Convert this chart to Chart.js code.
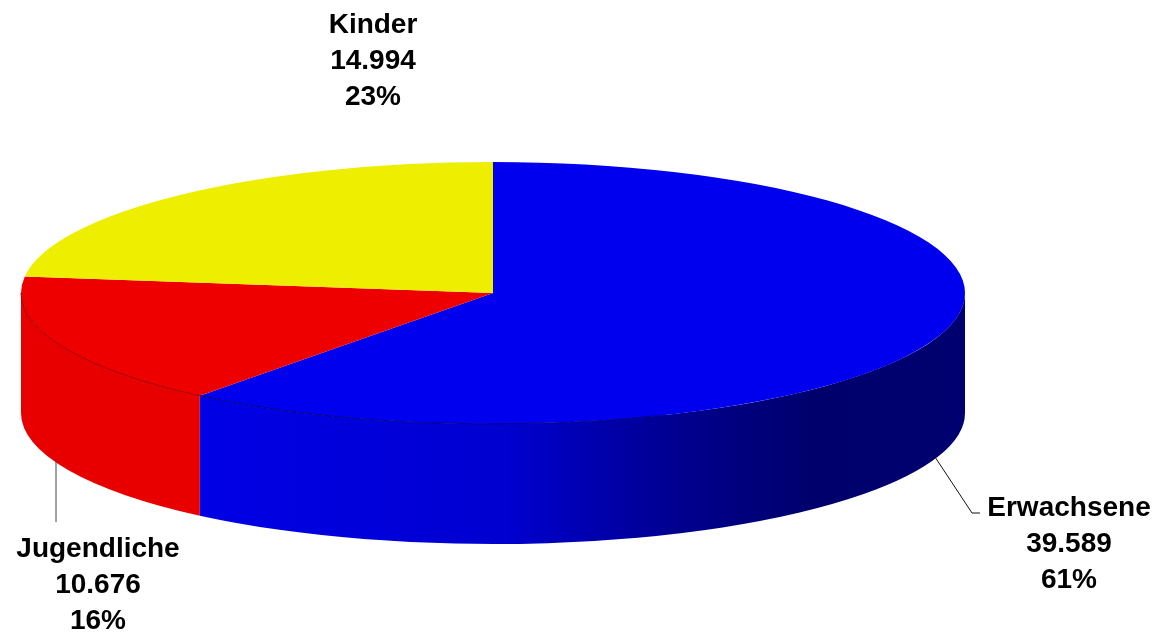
<!DOCTYPE html>
<html>
<head>
<meta charset="utf-8">
<title>Erwachsene, Jugendliche, Kinder</title>
<script src="https://cdn.jsdelivr.net/npm/chart.js@4"></script>
<style>
  html, body { margin: 0; padding: 0; background: #fff; }
  #wrap { position: relative; width: 1157px; height: 633px; }
</style>
</head>
<body>
<div id="wrap"><canvas id="myChart"></canvas></div>
<script>
"use strict";

let categories = ["Erwachsene", "Jugendliche", "Kinder"];
let values = [39589, 10676, 14994];
let valueLabels = ["39.589", "10.676", "14.994"];
let percentLabels = ["61%", "16%", "23%"];
let colors = ["#0000ee", "#ee0000", "#eeee00"];

// where the flat pie ends up on the page
const pieX = 493;
const pieY = 293;
const pieRx = 472;
const pieRy = 131;
const depth = 120;

// label centre x and first baseline, same order as categories
const labelPos = [[1069, 516], [98, 557], [373, 33]];

function wallFill(ctx, i) {
  if (i === 1) return "#e80000";
  let grad = ctx.createLinearGradient(200, 0, 965, 0);
  grad.addColorStop(0, "#0000e6");
  grad.addColorStop(0.4, "#0000d0");
  grad.addColorStop(0.62, "#000090");
  grad.addColorStop(0.8, "#00006c");
  grad.addColorStop(1, "#000070");
  return grad;
}

const pie3d = {
  id: "pie3d",
  beforeDatasetsDraw(chart) {
    const ctx = chart.ctx;
    const arcs = chart.getDatasetMeta(0).data;

    // side wall, only the part of each slice that faces us
    arcs.forEach((arc, i) => {
      const from = Math.max(arc.startAngle, 0);
      const to = Math.min(arc.endAngle, Math.PI);
      if (to <= from) return;
      ctx.save();
      ctx.beginPath();
      ctx.ellipse(pieX, pieY, pieRx, pieRy, 0, from, to);
      ctx.ellipse(pieX, pieY + depth, pieRx, pieRy, 0, to, from, true);
      ctx.closePath();
      ctx.fillStyle = wallFill(ctx, i);
      ctx.fill();
      ctx.restore();
    });

    // squash the pie itself
    const c = arcs[0];
    const sx = pieRx / c.outerRadius;
    const sy = pieRy / c.outerRadius;
    ctx.save();
    ctx.translate(pieX, pieY);
    ctx.scale(sx, sy);
    ctx.translate(-c.x, -c.y);
  },
  afterDatasetsDraw(chart) {
    const ctx = chart.ctx;
    ctx.restore();

    // dark rim between top and wall on the red slice
    const arcs = chart.getDatasetMeta(0).data;
    ctx.save();
    ctx.lineWidth = 1;
    ctx.strokeStyle = "#a00000";
    ctx.beginPath();
    ctx.ellipse(pieX, pieY, pieRx, pieRy, 0, arcs[1].startAngle, Math.PI);
    ctx.stroke();
    ctx.strokeStyle = "#00008a";
    ctx.beginPath();
    ctx.ellipse(pieX, pieY, pieRx, pieRy, 0, 1.2, arcs[0].endAngle);
    ctx.stroke();
    ctx.restore();

    // leader lines
    ctx.save();
    ctx.lineWidth = 1;
    ctx.strokeStyle = "#444";
    ctx.beginPath();
    ctx.moveTo(56, 460);
    ctx.lineTo(56, 522);
    ctx.stroke();
    ctx.strokeStyle = "#111";
    ctx.beginPath();
    ctx.moveTo(935, 457);
    ctx.lineTo(972, 513);
    ctx.lineTo(980, 513);
    ctx.stroke();
    ctx.restore();

    // labels
    ctx.save();
    ctx.fillStyle = "#000";
    ctx.font = "bold 28px 'Liberation Sans', Arial, sans-serif";
    ctx.textAlign = "center";
    ctx.textBaseline = "alphabetic";
    categories.forEach((name, i) => {
      const x = labelPos[i][0];
      const y = labelPos[i][1];
      ctx.fillText(name, x, y);
      ctx.fillText(valueLabels[i], x, y + 36);
      ctx.fillText(percentLabels[i], x, y + 72);
    });
    ctx.restore();
  },
};

new Chart(document.getElementById("myChart"), {
  type: "pie",
  data: {
    labels: categories,
    datasets: [{
      data: values,
      backgroundColor: colors,
      borderWidth: 0,
    }],
  },
  options: {
    responsive: true,
    maintainAspectRatio: false,
    animation: false,
    plugins: {
      legend: { display: false },
      tooltip: { enabled: false },
    },
  },
  plugins: [pie3d],
});
</script>
</body>
</html>
